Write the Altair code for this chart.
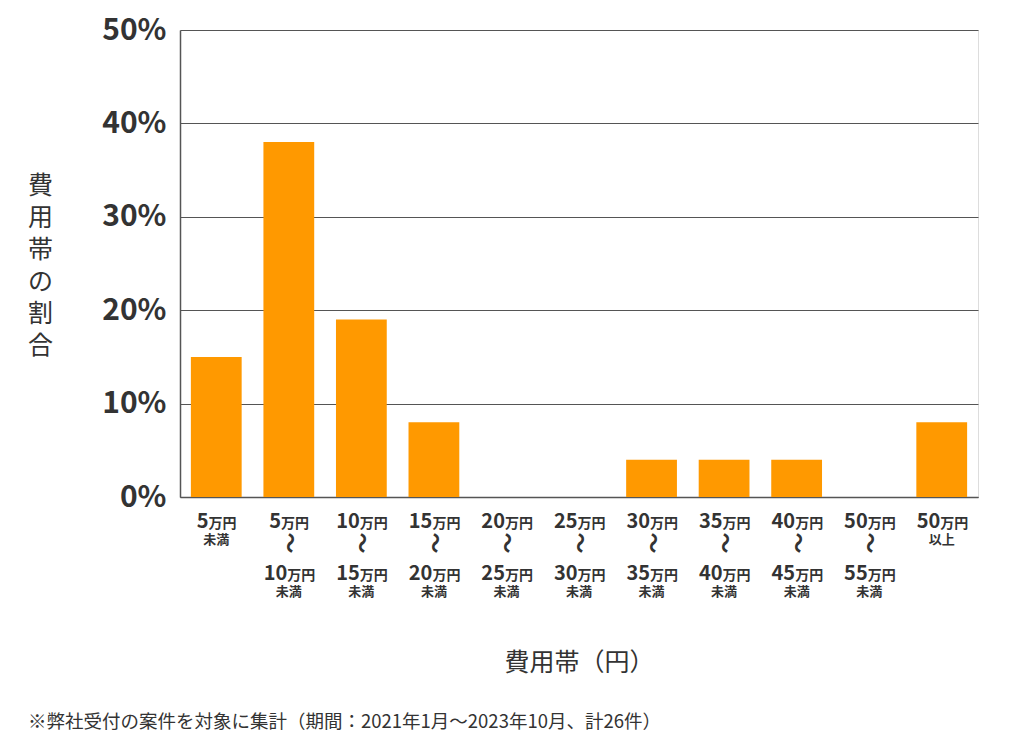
import altair as alt
import pandas as pd

# ---- data ----
lower = ["5", "5", "10", "15", "20", "25", "30", "35", "40", "50", "50"]
upper = ["", "10", "15", "20", "25", "30", "35", "40", "45", "55", ""]
single_note = ["未満", "", "", "", "", "", "", "", "", "", "以上"]
values = [15, 38, 19, 8, 0, 0, 4, 4, 4, 0, 8]
y_ticks = [0, 10, 20, 30, 40, 50]
y_title = ["費", "用", "帯", "の", "割", "合"]
x_title = "費用帯（円）"
footnote = "※弊社受付の案件を対象に集計（期間：2021年1月～2023年10月、計26件）"

cats = []
for lo, up, nt in zip(lower, upper, single_note):
    cats.append(f"{lo}～{up}万円未満" if up else f"{lo}万円{nt}")

df = pd.DataFrame({"cat": cats, "value": values, "lower": lower,
                   "upper": upper, "note": single_note})

FONT = "Noto Sans CJK JP"
TXT = "#333333"
ORANGE = "#FF9900"

x_enc = alt.X("cat:N", sort=cats,
              scale=alt.Scale(paddingInner=0.3, paddingOuter=0.15),
              axis=alt.Axis(labels=False, ticks=False, domain=True,
                            domainColor="#555555", domainWidth=1.5,
                            title=x_title, titleFont=FONT, titleFontSize=25,
                            titleFontWeight="normal", titleColor=TXT,
                            titleBaseline="middle", titleY=165))

base = alt.Chart(df)

bars = base.mark_bar(color=ORANGE).encode(
    x=x_enc,
    y=alt.Y("value:Q", scale=alt.Scale(domain=[0, 50], nice=False),
            axis=alt.Axis(values=y_ticks, labelExpr="datum.value + '%'",
                          labelFont=FONT, labelFontSize=30, labelFontWeight="bold",
                          labelColor=TXT, labelPadding=14, ticks=False,
                          domain=True, domainColor="#555555", domainWidth=1.5,
                          grid=True, gridColor="#555555", gridWidth=1,
                          title=y_title, titleAngle=0, titleFont=FONT,
                          titleFontSize=25, titleFontWeight="normal",
                          titleColor=TXT, titleAlign="center",
                          titleBaseline="top", titleX=-140, titleY=143,
                          titleLineHeight=32)),
)

def txt(**kw):
    return base.mark_text(font=FONT, color=TXT, fontWeight="bold", **kw)

# half band width (~25.4px) + centring of number+unit group
off1 = "25.4 + 6.25*length(datum.lower) - 14"
off2 = "25.4 + 6.25*length(datum.upper) - 14"

num1 = txt(align="right", baseline="alphabetic", fontSize=20).transform_calculate(
    off=off1).encode(x=alt.X("cat:N", sort=cats), xOffset=alt.XOffset("off:Q", scale=None),
                     y=alt.value(498), text="lower:N")
unit1 = txt(align="left", baseline="alphabetic", fontSize=14).transform_calculate(
    off=off1).encode(x=alt.X("cat:N", sort=cats), xOffset=alt.XOffset("off:Q", scale=None),
                     y=alt.value(498), text=alt.value("万円"))
note1 = txt(align="center", baseline="middle", fontSize=13).transform_filter(
    "datum.note != ''").encode(x=alt.X("cat:N", sort=cats), y=alt.value(510), text="note:N")
wave = base.mark_text(font=FONT, color=TXT, fontSize=21, fontWeight="bold", angle=90,
                      align="center", baseline="middle").transform_filter(
    "datum.upper != ''").encode(x=alt.X("cat:N", sort=cats), y=alt.value(513),
                                text=alt.value("～"))
num2 = txt(align="right", baseline="alphabetic", fontSize=20).transform_filter(
    "datum.upper != ''").transform_calculate(off=off2).encode(
    x=alt.X("cat:N", sort=cats), xOffset=alt.XOffset("off:Q", scale=None),
    y=alt.value(550), text="upper:N")
unit2 = txt(align="left", baseline="alphabetic", fontSize=14).transform_filter(
    "datum.upper != ''").transform_calculate(off=off2).encode(
    x=alt.X("cat:N", sort=cats), xOffset=alt.XOffset("off:Q", scale=None),
    y=alt.value(550), text=alt.value("万円"))
note2 = txt(align="center", baseline="middle", fontSize=13).transform_filter(
    "datum.upper != ''").encode(x=alt.X("cat:N", sort=cats), y=alt.value(562),
                                text=alt.value("未満"))

foot = alt.Chart(pd.DataFrame({"t": [footnote]})).mark_text(
    font=FONT, color=TXT, fontSize=18.5, align="left", baseline="middle").encode(
    x=alt.value(-152), y=alt.value(692), text="t:N")

chart = alt.layer(bars, num1, unit1, note1, wave, num2, unit2, note2, foot).properties(
    width=798, height=467,
    padding={"left": 172, "top": 22, "right": 38, "bottom": 233},
    autosize=alt.AutoSizeParams(type="none"),
).configure_view(stroke=None).configure(background="white")

chart.save("out.html", embed_options={"renderer": "svg", "actions": False})
